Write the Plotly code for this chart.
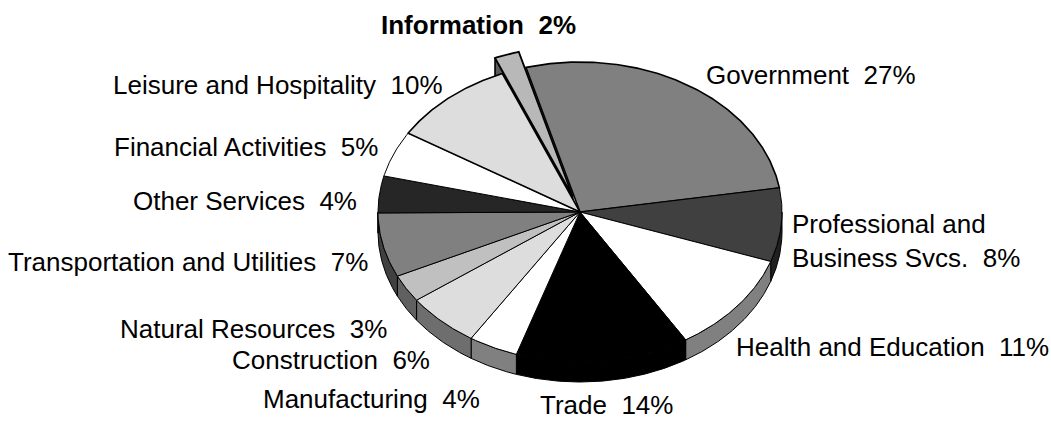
import numpy as np
import plotly.graph_objects as go

# Employment share by sector (percent), listed clockwise from the top
sectors = [
    "Government", "Professional and<br>Business Svcs.", "Health and Education",
    "Trade", "Manufacturing", "Construction", "Natural Resources",
    "Transportation and Utilities", "Other Services", "Financial Activities",
    "Leisure and Hospitality", "Information",
]
shares = [27, 8, 11, 14, 4, 6, 3, 7, 4, 5, 10, 2]
exploded_sector = "Information"

# Fill colours of the top faces and the darker rim walls
top_colors = ["#808080", "#404040", "#ffffff", "#000000", "#ffffff", "#dddddd",
              "#c0c0c0", "#808080", "#262626", "#ffffff", "#dddddd", "#b8b8b8"]
side_colors = ["#404040", "#202020", "#808080", "#000000", "#808080", "#6e6e6e",
               "#606060", "#404040", "#131313", "#808080", "#6e6e6e", "#5c5c5c"]

# Pie geometry in page pixels (y grows downward)
CX, CY = 580.0, 212.0
RX, RY = 202.0, 150.0
DEPTH = 20.0
START_DEG = -15.5
EXPLODE = 0.11

# Label placement: (x, y, xanchor)
label_pos = {
    "Government": (704, 75, "left"),
    "Professional and<br>Business Svcs.": (790, 241, "left"),
    "Health and Education": (734, 347, "left"),
    "Trade": (538, 405, "left"),
    "Manufacturing": (482, 399, "right"),
    "Construction": (432, 360, "right"),
    "Natural Resources": (389, 329, "right"),
    "Transportation and Utilities": (370, 262, "right"),
    "Other Services": (359, 201, "right"),
    "Financial Activities": (380, 147, "right"),
    "Leisure and Hospitality": (445, 85, "right"),
    "Information": (478, 25, "center"),
}

total = float(sum(shares))
spans = [s / total * 360.0 for s in shares]
starts = START_DEG + np.concatenate([[0.0], np.cumsum(spans)[:-1]])
ends = starts + np.array(spans)


def pt(theta_deg, r=1.0, off=(0.0, 0.0), dy=0.0):
    t = np.radians(theta_deg)
    return (CX + off[0] + r * RX * np.sin(t),
            CY + off[1] - r * RY * np.cos(t) + dy)


def arc(a, b, off=(0.0, 0.0), dy=0.0):
    n = max(2, int(abs(b - a) * 2) + 2)
    th = np.linspace(a, b, n)
    xs, ys = pt(th, 1.0, off, dy)
    return list(xs), list(ys)


fig = go.Figure()


def poly(xs, ys, fill, width=1.0):
    fig.add_trace(go.Scatter(
        x=list(xs) + [xs[0]], y=list(ys) + [ys[0]], mode="lines",
        fill="toself", fillcolor=fill,
        line=dict(color="#000000", width=width),
        hoverinfo="skip", showlegend=False,
    ))


def explode_offset(i):
    if sectors[i] != exploded_sector:
        return (0.0, 0.0)
    m = np.radians((starts[i] + ends[i]) / 2.0)
    return (EXPLODE * RX * np.sin(m), -EXPLODE * RY * np.cos(m))


def top_face(i, width=1.0):
    off = explode_offset(i)
    ax_, ay_ = pt(0, 0.0, off)
    xs, ys = arc(starts[i], ends[i], off)
    poly([ax_] + xs, [ay_] + ys, top_colors[i], width)


def radial_face(i, theta, width=1.0):
    off = explode_offset(i)
    x0, y0 = pt(theta, 0.0, off)
    x1, y1 = pt(theta, 1.0, off)
    poly([x0, x1, x1, x0], [y0, y1, y1 + DEPTH, y0 + DEPTH], side_colors[i], width)


def rim_wall(i):
    # only the front half of the rim (90..270 deg) faces the viewer
    a_raw = starts[i] if starts[i] >= 0 else starts[i] + 360
    b_raw = a_raw + spans[i]
    a = max(a_raw, 90.0)
    b = min(b_raw, 270.0)
    if b <= a:
        return
    off = explode_offset(i)
    xt, yt = arc(a, b, off)
    xb, yb = arc(b, a, off, DEPTH)
    poly(xt + xb, yt + yb, side_colors[i])


ex = sectors.index(exploded_sector)

# Detached slice sits behind the rest of the pie
radial_face(ex, starts[ex], 1.6)
top_face(ex, 1.8)

# Rim walls of the front half
for i in range(len(sectors)):
    if i != ex:
        rim_wall(i)

# Top faces
for i in range(len(sectors)):
    if i != ex:
        top_face(i, 1.6 if sectors[(i + 1) % len(sectors)] == exploded_sector
                 or sectors[i - 1] == exploded_sector else 1.0)

# Labels
for i, name in enumerate(sectors):
    x, y, anchor = label_pos[name]
    text = f"{name}  {shares[i]}%"
    if name == exploded_sector:
        text = f"<b>{text}</b>"
    fig.add_annotation(
        x=x, y=y, xref="x", yref="y", text=text, showarrow=False,
        xanchor=anchor, yanchor="middle", align="left",
        font=dict(family="Liberation Sans, Arial, sans-serif", size=26, color="#000000"),
    )

fig.update_layout(
    width=1051, height=421,
    margin=dict(l=0, r=0, t=0, b=0),
    paper_bgcolor="#ffffff", plot_bgcolor="#ffffff",
    xaxis=dict(range=[0, 1051], visible=False, fixedrange=True),
    yaxis=dict(range=[421, 0], visible=False, fixedrange=True),
    showlegend=False,
)

fig.write_html("out.html")
